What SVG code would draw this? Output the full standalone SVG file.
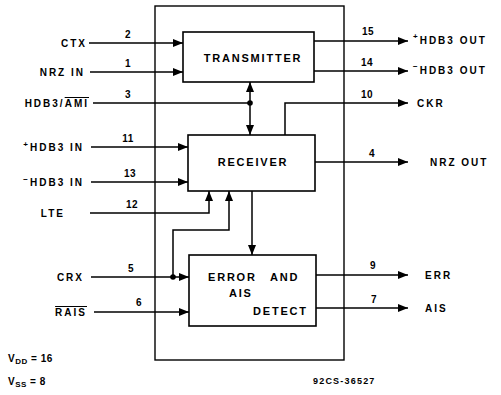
<svg xmlns="http://www.w3.org/2000/svg" width="501" height="395" viewBox="0 0 501 395">
<style>
  text { font-family: "Liberation Sans", Arial, sans-serif; font-weight: bold; fill: #000; }
  .lbl { font-size: 10px; letter-spacing: 2px; }
  .pin { font-size: 10px; letter-spacing: 0.5px; }
  .blk { font-size: 11px; letter-spacing: 1.8px; }
  .box { fill: #fff; stroke: #000; stroke-width: 1.6; }
  .frame { fill: none; stroke: #000; stroke-width: 1.4; }
  .w { fill: none; stroke: #000; stroke-width: 1.5; }
  .a { marker-end: url(#arr); }
  .bi { marker-end: url(#arr); marker-start: url(#arrs); }
</style>
<defs>
  <marker id="arr" markerUnits="userSpaceOnUse" markerWidth="10" markerHeight="8" refX="10" refY="4" orient="auto">
    <path d="M0,0 L10,4 L0,8 z" fill="#000"/>
  </marker>
  <marker id="arrs" markerUnits="userSpaceOnUse" markerWidth="10" markerHeight="8" refX="10" refY="4" orient="auto-start-reverse">
    <path d="M0,0 L10,4 L0,8 z" fill="#000"/>
  </marker>
</defs>

<rect id="chip" class="frame" x="155" y="6" width="189" height="354"/>

<g id="connectors">
  <!-- inputs -->
  <path class="w a" d="M89 43 H183"/>
  <path class="w a" d="M90 72 H183"/>
  <path class="w" d="M93 103 H250"/>
  <path class="w bi" d="M250 82 V135"/>
  <path class="w a" d="M91 147 H188"/>
  <path class="w a" d="M91 182 H188"/>
  <path class="w a" d="M90 213 H209 V191"/>
  <path class="w a" d="M173 277 V230 H229 V191"/>
  <path class="w a" d="M91 277 H189"/>
  <path class="w a" d="M94 312 H189"/>
  <path class="w a" d="M252 191 V255"/>
  <!-- outputs -->
  <path class="w a" d="M314 41 H408"/>
  <path class="w a" d="M314 71 H408"/>
  <path class="w a" d="M285 135 V103 H408"/>
  <path class="w a" d="M315 162 H408"/>
  <path class="w a" d="M316 275 H408"/>
  <path class="w a" d="M316 308 H408"/>
  <circle cx="250" cy="103" r="2.8" fill="#000"/>
  <circle cx="173" cy="277" r="2.8" fill="#000"/>
  <!-- pin numbers -->
  <text class="pin" x="128" y="38" text-anchor="middle">2</text>
  <text class="pin" x="128" y="67" text-anchor="middle">1</text>
  <text class="pin" x="128" y="98" text-anchor="middle">3</text>
  <text class="pin" x="128" y="142" text-anchor="middle">11</text>
  <text class="pin" x="130" y="177" text-anchor="middle">13</text>
  <text class="pin" x="132" y="208" text-anchor="middle">12</text>
  <text class="pin" x="131" y="272" text-anchor="middle">5</text>
  <text class="pin" x="139" y="306" text-anchor="middle">6</text>
  <text class="pin" x="368" y="35" text-anchor="middle">15</text>
  <text class="pin" x="367" y="66" text-anchor="middle">14</text>
  <text class="pin" x="367" y="98" text-anchor="middle">10</text>
  <text class="pin" x="372" y="157" text-anchor="middle">4</text>
  <text class="pin" x="373" y="269" text-anchor="middle">9</text>
  <text class="pin" x="374" y="303" text-anchor="middle">7</text>
</g>

<g id="transmitter">
  <rect class="box" x="183" y="32" width="131" height="50"/>
  <text class="blk" x="253" y="62" text-anchor="middle">TRANSMITTER</text>
</g>
<g id="receiver">
  <rect class="box" x="188" y="135" width="127" height="56"/>
  <text class="blk" x="253" y="166" text-anchor="middle">RECEIVER</text>
</g>
<g id="error-ais-detect">
  <rect class="box" x="189" y="255" width="127" height="71"/>
  <text class="blk" x="208" y="281">ERROR<tspan x="270">AND</tspan></text>
  <text class="blk" x="229" y="297">AIS</text>
  <text class="blk" x="253" y="315">DETECT</text>
</g>

<g id="inputs">
  <text class="lbl" x="87" y="47" text-anchor="end">CTX</text>
  <text class="lbl" x="85" y="76" text-anchor="end">NRZ IN</text>
  <text class="lbl" x="89" y="107" text-anchor="end">HDB3/<tspan style="text-decoration: overline">AMI</tspan></text>
  <text class="lbl" x="84" y="151" text-anchor="end"><tspan font-size="8" dy="-4">+</tspan><tspan dy="4">HDB3 IN</tspan></text>
  <text class="lbl" x="84" y="186" text-anchor="end"><tspan font-size="8" dy="-4">−</tspan><tspan dy="4">HDB3 IN</tspan></text>
  <text class="lbl" x="65" y="217" text-anchor="end">LTE</text>
  <text class="lbl" x="84" y="281" text-anchor="end">CRX</text>
  <text class="lbl" x="87" y="316" text-anchor="end" style="text-decoration: overline">RAIS</text>
</g>

<g id="outputs">
  <text class="lbl" x="413" y="44"><tspan font-size="8" dy="-5">+</tspan><tspan dy="5">HDB3 OUT</tspan></text>
  <text class="lbl" x="413" y="74"><tspan font-size="8" dy="-5">−</tspan><tspan dy="5">HDB3 OUT</tspan></text>
  <text class="lbl" x="417" y="107">CKR</text>
  <text class="lbl" x="430" y="166">NRZ OUT</text>
  <text class="lbl" x="425" y="279">ERR</text>
  <text class="lbl" x="425" y="312">AIS</text>
</g>

<g id="notes">
  <text class="lbl" x="8" y="362" style="letter-spacing:0.5px">V<tspan font-size="8" dy="2">DD</tspan><tspan dy="-2"> = 16</tspan></text>
  <text class="lbl" x="8" y="385" style="letter-spacing:0.5px">V<tspan font-size="8" dy="2">SS</tspan><tspan dy="-2"> = 8</tspan></text>
  <text class="lbl" x="313" y="384" style="font-size:9px;letter-spacing:1.2px">92CS-36527</text>
</g>
</svg>
